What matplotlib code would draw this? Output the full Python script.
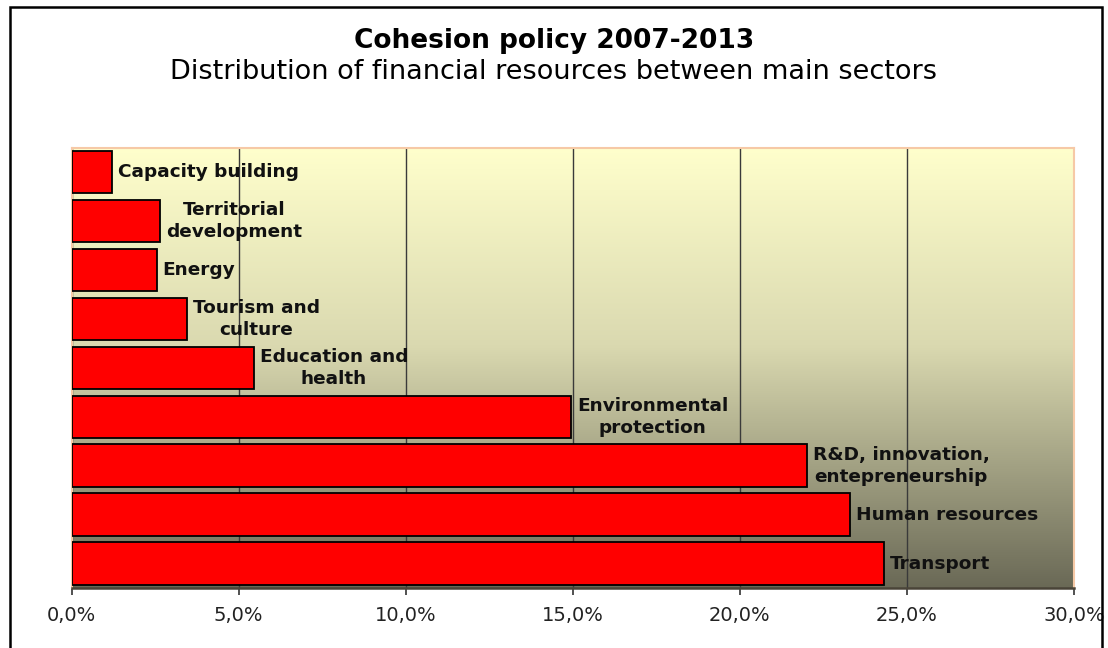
import matplotlib
matplotlib.use("Agg")
import matplotlib.pyplot as plt
import matplotlib.colors as mcolors
from matplotlib.patches import Rectangle
from matplotlib.ticker import FuncFormatter, MultipleLocator
import numpy as np

# Data (share of total cohesion policy funds, %)
sectors = [
    "Capacity building",
    "Territorial\ndevelopment",
    "Energy",
    "Tourism and\nculture",
    "Education and\nhealth",
    "Environmental\nprotection",
    "R&D, innovation,\nentepreneurship",
    "Human resources",
    "Transport",
]
shares = [1.2, 2.65, 2.55, 3.45, 5.45, 14.95, 22.0, 23.3, 24.3]

title = "Cohesion policy 2007-2013"
subtitle = "Distribution of financial resources between main sectors"

W, H = 1108, 648
fig = plt.figure(figsize=(W / 100, H / 100), dpi=100)
fig.patch.set_facecolor("white")

# outer frame
fig.patches.append(Rectangle((10 / W, -0.02), 1092 / W, 1.02 - 7 / H,
                             transform=fig.transFigure, fill=False,
                             edgecolor="black", linewidth=1.8))

ax = fig.add_axes([71.5 / W, 1 - 588 / H, (1074 - 71.5) / W, (588 - 147.5) / H])

# gradient background of the plot area
grad = mcolors.LinearSegmentedColormap.from_list(
    "bg", [(0.0, "#FFFFCC"), (0.45, "#DAD9B0"), (1.0, "#6A6956")])
ax.imshow(np.linspace(0, 1, 256).reshape(-1, 1), cmap=grad, aspect="auto",
          extent=[0, 1, 0, 1], transform=ax.transAxes, zorder=0)

y = np.arange(len(sectors))
ax.barh(y, shares, height=0.865, color="#FF0000", edgecolor="black",
        linewidth=1.3, zorder=3)

for yi, v, lab in zip(y, shares, sectors):
    ax.annotate(lab, (v, yi), xytext=(6, 0), textcoords="offset pixels",
                ha="left", va="center", multialignment="center",
                fontsize=13.3, fontweight="bold", color="#111111", zorder=4,
                linespacing=1.3)

ax.set_xlim(0, 30)
ax.set_ylim(len(sectors) - 0.5, -0.5)
ax.xaxis.set_major_locator(MultipleLocator(5))
ax.xaxis.set_major_formatter(FuncFormatter(lambda v, p: f"{v:.1f}%".replace(".", ",")))
ax.set_yticks([])
ax.grid(axis="x", color="#3A3A3A", linewidth=1.0, zorder=1)
ax.set_axisbelow(True)

ax.tick_params(axis="x", direction="out", length=5, width=1.2, color="#333333",
               labelsize=14, labelcolor="#222222", pad=8)
for s in ("top", "right", "left"):
    ax.spines[s].set_color("#F6C9A6")
    ax.spines[s].set_linewidth(1.5)
ax.spines["bottom"].set_color("#4A4438")
ax.spines["bottom"].set_linewidth(1.8)

fig.text(0.5, 1 - 41 / H, title, ha="center", va="center",
         fontsize=19, fontweight="bold")
fig.text(0.5, 1 - 72 / H, subtitle, ha="center", va="center", fontsize=19.5)

fig.savefig("out.png", dpi=100)
